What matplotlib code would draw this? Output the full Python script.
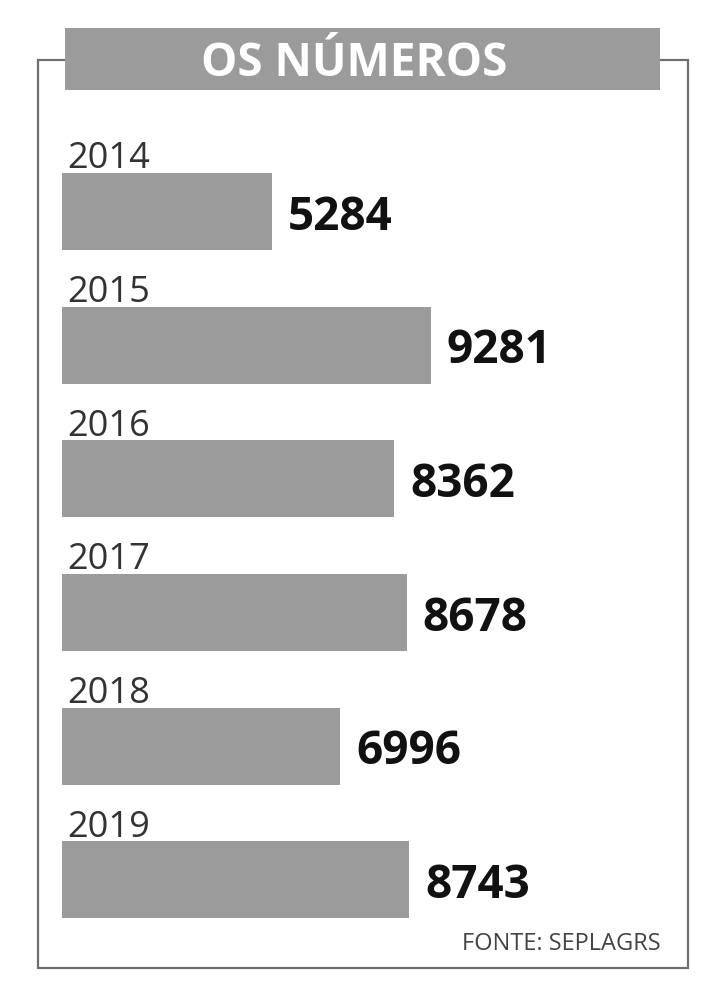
import matplotlib
matplotlib.use("Agg")
import matplotlib.pyplot as plt
from matplotlib.patches import Rectangle

years = ["2014", "2015", "2016", "2017", "2018", "2019"]
values = [5284, 9281, 8362, 8678, 6996, 8743]
title = "OS NÚMEROS"
source = "FONTE: SEPLAGRS"

GRAY = "#9b9b9b"
FONT = ["Open Sans", "DejaVu Sans"]

fig = plt.figure(figsize=(7.24, 10), dpi=100)
fig.patch.set_facecolor("white")

# outer frame, banner sits on top of it
fig.add_artist(Rectangle((0.0525, 0.032), 0.8975, 0.908, transform=fig.transFigure,
                         fill=False, edgecolor="#6f6f6f", linewidth=1.6, zorder=1))
fig.add_artist(Rectangle((0.0898, 0.910), 0.822, 0.062, transform=fig.transFigure,
                         facecolor=GRAY, edgecolor="none", zorder=2))
fig.text(0.489, 0.937, title, color="white", fontsize=33, fontweight="bold",
         family=FONT, ha="center", va="center", zorder=3)

ax = fig.add_axes([0.0856, 0.0532, 0.8646, 0.802])
bar_h = 0.576
pos = list(range(len(years)))
ax.barh(pos, values, height=bar_h, color=GRAY, edgecolor="none")
ax.set_xlim(0, 15750)
ax.set_ylim(len(years) - 0.5, -0.5)
ax.axis("off")

for i, (yr, v) in enumerate(zip(years, values)):
    ax.annotate(yr, xy=(0, i - bar_h / 2), xytext=(4, 3.5), textcoords="offset points",
                ha="left", va="baseline", fontsize=26, color="#333333", family=FONT)
    ax.annotate(f"{v}", xy=(v, i), xytext=(11.5, -4), textcoords="offset points",
                ha="left", va="center", fontsize=33, fontweight="bold",
                color="#111111", family=FONT)

fig.text(0.912, 0.050, source, ha="right", va="baseline", fontsize=17,
         color="#444444", family=FONT)

fig.savefig("out.png", dpi=100)
